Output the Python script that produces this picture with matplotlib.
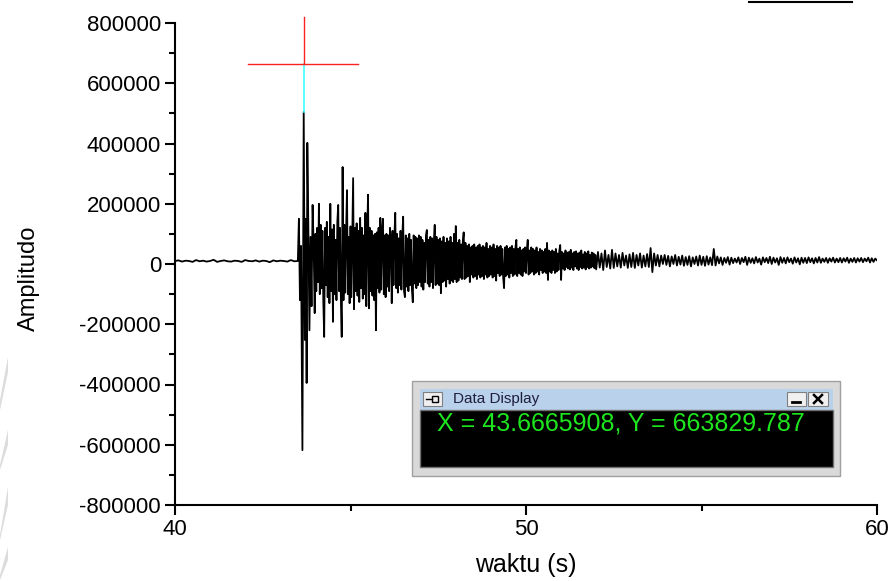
import numpy as np
import matplotlib
matplotlib.use("Agg")
import matplotlib.pyplot as plt
from matplotlib.patches import Rectangle, Polygon
from matplotlib.lines import Line2D

plt.rcParams["font.family"] = ["Liberation Sans", "DejaVu Sans"]
plt.rcParams["axes.unicode_minus"] = False

W, H = 892, 581

# amplitudes in thousands
# quiet part before the first arrival, every 0.1 s from 40.0 s
pre_amp = [10, 12, 8, 11, 10, 7, 13, 9, 11, 8, 10, 14, 7, 10, 12, 9,
           8, 11, 10, 7, 13, 10, 9, 12, 8, 11, 10, 6, 12, 9, 11, 10,
           8, 13, 9, 10]

# first arrival, irregular times
onset_t = [43.53, 43.56, 43.59, 43.63, 43.667, 43.70, 43.73, 43.75, 43.77,
           43.80, 43.83, 43.86, 43.89, 43.92, 43.95, 43.98]
onset_amp = [150, -120, 60, -618, 505, -252, 150, -395, 402,
             110, -220, 90, -140, 196, 60, -163]

# strong coda, every 0.025 s from 44.0 s to 51.975 s
coda_amp = [
    100, -90, 120, -60, 200, -100, 130, -80, 110, -120,
    -242, 120, -70, 140, -110, 90, -130, 200, -90, 115,
    -192, 130, -100, 80, -120, 140, 196, -90, 120, -110,
    -242, 322, -120, 130, -95, 110, 245, -100, 90, -130,
    125, -110, 100, 285, -150, 120, -90, 135, -105, 110,
    -126, 153, -80, 120, -115, 95, -100, 170, -140, 105,
    230, -147, 120, -90, 110, -105, 95, -120, 100, -220,
    105, -80, 120, -95, 153, -85, 110, 150, -100, 95,
    -110, 100, -75, 95, -90, 120, 85, -130, 110, -70,
    90, 170, -80, 100, -95, 85, -70, 110, -85, 90,
    157, -90, -110, 95, -75, 85, -90, 100, -70, 80,
    -85, -127, 95, -65, 90, -80, 85, -70, 95, -60,
    90, -75, 80, -85, 70, -60, 95, 113, -65, 80,
    -75, 90, -60, 85, -80, 75, 130, -70, 90, -65,
    80, -70, 85, -97, 75, -60, 90, -55, 70, -75,
    85, -50, 75, -65, 90, -55, 70, -60, 100, -50,
    126, -60, 70, -55, 80, -45, 65, -50, 75, 105,
    -50, 70, -45, 60, -40, 65, -60, 55, -35, 60,
    -45, 65, -40, 55, -50, 60, -35, 65, -45, 55,
    -40, 60, -50, 55, -35, 70, -45, 50, -40, 60,
    -35, 55, -45, 65, -40, 50, -55, 60, -30, 55,
    -40, 60, -35, 50, -45, -80, 55, -40, 60, -35,
    50, -45, 55, -30, 60, -40, 50, -35, 55, 80,
    -40, 50, -30, 55, -35, 45, -40, 50, -25, 55,
    -30, 50, 80, -35, 45, -30, 55, -25, 50, -35,
    45, -30, 55, -25, 40, -35, 50, -20, 45, -30,
    40, -25, 50, -30, 70, -53, 45, -25, 40, -30,
    45, -20, 40, -30, 50, -25, 35, -20, 45, 63,
    -53, 40, -15, 35, -20, 45, -10, 38, -15, 40,
    -18, 47, -12, 35, -20, 40, -8, 42, -15, 35,
    -20, 38, -10, 45, -15, 32, -12, 40, -18, 35,
    -10, 42, -15, 30, -12, 38, -8, 35, -14, 30,
]

# weak tail, every 0.05 s from 52.0 s to 60.0 s
tail_amp = [
    -18, 40, -12, 35, -20, 45, -10, 30, -15, 47,
    -13, 35, -8, 30, -12, 37, -5, 28, -13, 32,
    -10, 37, -13, 30, -5, 35, -12, 28, -8, 33,
    -10, 53, -27, 35, -5, 30, -8, 28, 0, 30,
    -3, 27, -8, 25, 0, 30, -5, 24, -2, 28,
    -6, 23, -3, 26, -8, 22, 0, 25, -5, 28,
    -3, 24, -6, 26, -2, 22, -4, 50, -5, 25,
    2, 22, -3, 20, 4, 23, -2, 21, 3, 18,
    5, 22, 0, 20, 6, 24, -3, 21, 4, 19,
    2, 23, 5, 18, -2, 22, 6, 20, 3, 24,
    0, 21, 5, 19, -3, 23, 4, 20, 2, 22,
    6, 18, 1, 22, 5, 19, -1, 21, 4, 20,
    3, 22, 6, 19, 2, 20, 5, 23, 4, 18,
    7, 20, 4, 19, 8, 21, 5, 18, 6, 20,
    5, 19, 8, 21, 4, 18, 7, 20, 5, 19,
    8, 20, 6, 18, 9, 21, 5, 19, 7, 18, 12,
]

cursor_x = 43.6665908
cursor_y = 663829.787
cursor_text = "X = 43.6665908, Y = 663829.787"

pre_t = 40.0 + 0.1 * np.arange(len(pre_amp))
coda_t = 44.0 + 0.025 * np.arange(len(coda_amp))
tail_t = 52.0 + 0.05 * np.arange(len(tail_amp))
t = np.concatenate([pre_t, onset_t, coda_t, tail_t])
amp = np.concatenate([pre_amp, onset_amp, coda_amp, tail_amp]) * 1000.0

fig = plt.figure(figsize=(W / 100, H / 100), dpi=100)
fig.patch.set_facecolor("white")


def fx(px):
    return px / W


def fy(py):
    return 1 - py / H


ax = fig.add_axes([fx(175), fy(505), fx(877) - fx(175), fy(23) - fy(505)])
ax.plot(t, amp, color="black", lw=1.3)

# cursor cross
ax.plot([cursor_x, cursor_x], [505000, cursor_y], color="#40ffff", lw=1.2)
ax.plot([42.08, 45.21], [cursor_y, cursor_y], color="#ff2020", lw=1.0, clip_on=False)
ax.plot([cursor_x, cursor_x], [cursor_y, 820000], color="#ff2020", lw=1.0, clip_on=False)

ax.set_xlim(40, 60)
ax.set_ylim(-800000, 800000)
ax.spines["top"].set_visible(False)
ax.spines["right"].set_visible(False)
for s in ("left", "bottom"):
    ax.spines[s].set_linewidth(1.5)

ax.set_xticks([40, 50, 60])
ax.set_xticks([45, 55], minor=True)
yt = np.arange(-800000, 800001, 200000)
ax.set_yticks(yt)
ax.set_yticklabels(["%d" % v for v in yt])
ax.set_yticks(np.arange(-700000, 800000, 200000), minor=True)
ax.tick_params(which="major", direction="out", length=7, width=1.5, labelsize=16, pad=3)
ax.tick_params(which="minor", direction="out", length=4, width=1.5)

ax.set_xlabel("waktu (s)", fontsize=18)
ax.xaxis.set_label_coords(0.5, -0.1)
ax.set_ylabel("Amplitudo", fontsize=17)
ax.yaxis.set_label_coords(-0.192, 0.47)

# Data Display window
def frect(x0, y0, x1, y1, **kw):
    fig.patches.append(Rectangle((fx(x0), fy(y1)), fx(x1) - fx(x0), fy(y0) - fy(y1),
                                 transform=fig.transFigure, **kw))


def fline(xs, ys, **kw):
    fig.add_artist(Line2D([fx(v) for v in xs], [fy(v) for v in ys], **kw))


frect(412, 381, 840, 476, facecolor="#d9d9d9", edgecolor="#a0a0a0", lw=1)
frect(420, 389, 833, 410, facecolor="#b9d1ea", edgecolor="none")
frect(420, 410, 833, 467, facecolor="black", edgecolor="#707070", lw=1)
# pin button
frect(423, 392, 442, 406, facecolor="#f0f0f0", edgecolor="#808080", lw=0.8)
fline([426, 432], [399, 399], color="black", lw=1)
frect(432, 396, 438, 402, facecolor="none", edgecolor="black", lw=1)
fig.text(fx(453), fy(398.5), "Data Display", fontsize=11, ha="left", va="center",
         color="#1e1e3c")
# minimize / close
frect(787, 392, 806, 406, facecolor="#f0f0f0", edgecolor="#808080", lw=0.8)
frect(808, 392, 828, 406, facecolor="#f0f0f0", edgecolor="#808080", lw=0.8)
fline([792, 800], [402, 402], color="black", lw=2)
fline([814, 822], [395, 403], color="black", lw=1.8)
fline([814, 822], [403, 395], color="black", lw=1.8)
fig.text(fx(437), fy(423), cursor_text, fontsize=18, ha="left", va="center",
         color="#1ee61e")

# stray line at the top right
fline([749, 852], [2, 2], color="black", lw=1.5)

# faint watermark on the left edge
for pts in ([(0, 400), (8, 357), (8, 372), (0, 410)],
            [(0, 465), (8, 430), (8, 445), (0, 470)],
            [(0, 535), (8, 487), (8, 505), (0, 540)],
            [(0, 575), (8, 547), (8, 560), (0, 580)]):
    fig.patches.append(Polygon([(fx(a), fy(b)) for a, b in pts], closed=True,
                               transform=fig.transFigure, facecolor="#dcdcdc",
                               edgecolor="none"))

fig.savefig("out.png", dpi=100)
